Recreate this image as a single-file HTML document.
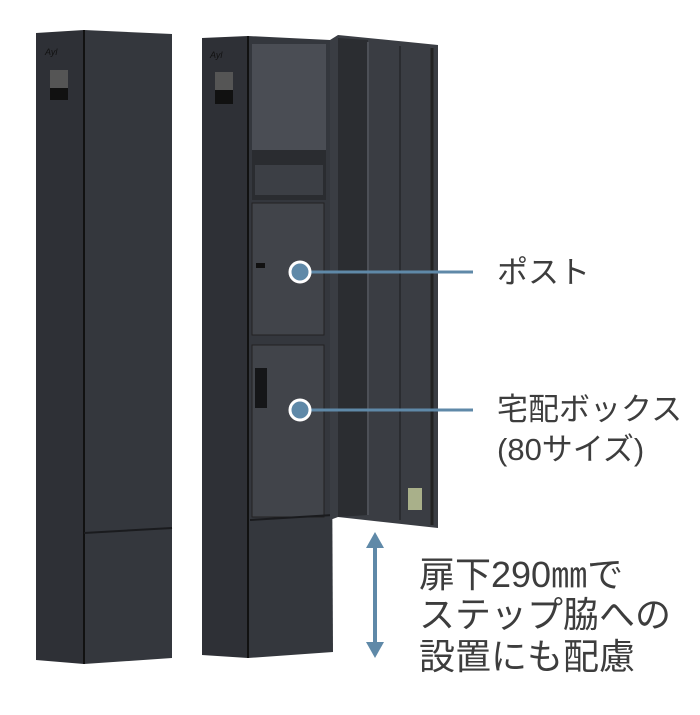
<!DOCTYPE html>
<html><head><meta charset="utf-8"><style>
html,body{margin:0;padding:0;background:#fff;}
body{width:700px;height:715px;position:relative;overflow:hidden;font-family:"Liberation Sans","Noto Sans CJK JP",sans-serif;}
.t{position:absolute;color:#3d3d3d;white-space:nowrap;line-height:1;}
</style></head><body>
<svg width="700" height="715" style="position:absolute;left:0;top:0">
<polygon points="36,33 84,30 84,664 36,660" fill="#2e3036"/>
<polygon points="84,30 172,34 172,658 84,664" fill="#34373d"/>
<line x1="84" y1="30" x2="84" y2="664" stroke="#111" stroke-width="2"/>
<line x1="84" y1="533" x2="172" y2="528" stroke="#1a1b1e" stroke-width="2"/>
<rect x="50" y="70" width="18" height="30" fill="#555"/>
<rect x="50" y="88" width="18" height="12" fill="#111"/>
<text x="45" y="55" font-size="9" fill="#111" font-style="italic">Ayl</text>
<polygon points="202,38 248,36 248,658 202,655" fill="#2e3036"/>
<polygon points="248,36 330,40 333,652 248,658" fill="#34373d"/>
<line x1="248" y1="36" x2="248" y2="658" stroke="#111" stroke-width="2"/>
<rect x="252" y="44" width="74" height="106" fill="#4a4d54"/>
<rect x="252" y="150" width="74" height="50" fill="#2a2c30"/>
<rect x="255" y="165" width="68" height="30" fill="#3c3f45"/>
<rect x="252" y="203" width="72" height="132" fill="#41444a" stroke="#222" stroke-width="1"/>
<rect x="252" y="345" width="72" height="172" fill="#41444a" stroke="#222" stroke-width="1"/>
<rect x="256" y="263" width="9" height="5" fill="#111"/>
<rect x="255" y="368" width="12" height="40" fill="#151618"/>
<line x1="250" y1="520" x2="333" y2="515" stroke="#1a1b1e" stroke-width="2"/>
<rect x="215" y="72" width="18" height="32" fill="#555"/>
<rect x="215" y="90" width="18" height="14" fill="#111"/>
<text x="210" y="58" font-size="9" fill="#111" font-style="italic">Ayl</text>
<polygon points="330,40 338,35 438,45 438,528 338,517 330,520" fill="#3a3d43"/>
<polygon points="338,38 368,40 368,515 338,517" fill="#2b2d31"/>
<line x1="368" y1="42" x2="368" y2="515" stroke="#4d5057" stroke-width="2"/>
<line x1="400" y1="46" x2="400" y2="520" stroke="#2a2c30" stroke-width="2"/>
<line x1="432" y1="48" x2="432" y2="525" stroke="#222" stroke-width="3"/>
<rect x="408" y="488" width="14" height="22" fill="#a9b08a"/>
<line x1="300" y1="272" x2="473" y2="272" stroke="#5f89a8" stroke-width="3"/>
<line x1="300" y1="410" x2="473" y2="410" stroke="#5f89a8" stroke-width="3"/>
<circle cx="300" cy="272" r="10" fill="#5f89a8" stroke="#fff" stroke-width="3"/>
<circle cx="300" cy="410" r="10" fill="#5f89a8" stroke="#fff" stroke-width="3"/>
<line x1="375" y1="545" x2="375" y2="645" stroke="#5f89a8" stroke-width="4"/>
<polygon points="366,548 384,548 375,532" fill="#5f89a8"/>
<polygon points="366,642 384,642 375,658" fill="#5f89a8"/>
</svg>
<div class="t" style="left:497px;top:257px;font-size:31px">ポスト</div>
<div class="t" style="left:497px;top:394px;font-size:31px">宅配ボックス</div>
<div class="t" style="left:497px;top:434px;font-size:31px">(80サイズ)</div>
<div class="t" style="left:419px;top:557px;font-size:36px">扉下290㎜で</div>
<div class="t" style="left:419px;top:597px;font-size:36px">ステップ脇への</div>
<div class="t" style="left:419px;top:639px;font-size:36px">設置にも配慮</div>
</body></html>
